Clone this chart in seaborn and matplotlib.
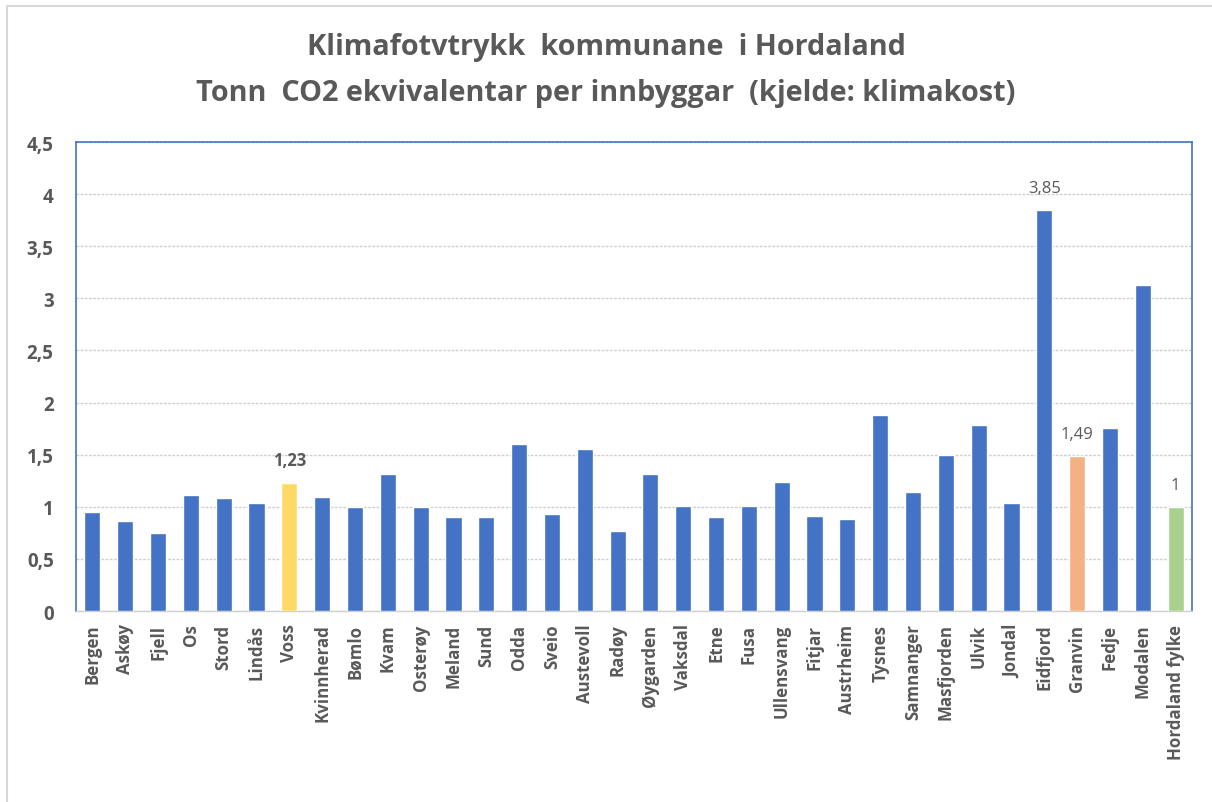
import matplotlib
matplotlib.use("Agg")
import matplotlib.pyplot as plt
import seaborn as sns
import pandas as pd
from matplotlib.lines import Line2D
from matplotlib.ticker import FuncFormatter

kommunar = ["Bergen", "Askøy", "Fjell", "Os", "Stord", "Lindås", "Voss", "Kvinnherad",
            "Bømlo", "Kvam", "Osterøy", "Meland", "Sund", "Odda", "Sveio", "Austevoll",
            "Radøy", "Øygarden", "Vaksdal", "Etne", "Fusa", "Ullensvang", "Fitjar",
            "Austrheim", "Tysnes", "Samnanger", "Masfjorden", "Ulvik", "Jondal",
            "Eidfjord", "Granvin", "Fedje", "Modalen", "Hordaland fylke"]
tonn_co2 = [0.95, 0.86, 0.75, 1.11, 1.08, 1.04, 1.23, 1.09,
            1.00, 1.31, 1.00, 0.90, 0.90, 1.60, 0.93, 1.55,
            0.77, 1.31, 1.01, 0.90, 1.01, 1.24, 0.91,
            0.88, 1.88, 1.14, 1.50, 1.78, 1.04,
            3.85, 1.49, 1.76, 3.13, 1.00]
y_ticks = [0, 0.5, 1, 1.5, 2, 2.5, 3, 3.5, 4, 4.5]
labelled = {"Voss": ("1,23", "bold"), "Eidfjord": ("3,85", "normal"),
            "Granvin": ("1,49", "normal"), "Hordaland fylke": ("1", "normal")}
title_lines = ["Klimafotvtrykk  kommunane  i Hordaland",
               "Tonn  CO2 ekvivalentar per innbyggar  (kjelde: klimakost)"]

BLUE = "#4472C4"
highlight = {"Voss": "#FFD966", "Granvin": "#F4B183", "Hordaland fylke": "#A9D18E"}
palette = {k: highlight.get(k, BLUE) for k in kommunar}

df = pd.DataFrame({"kommune": kommunar, "verdi": tonn_co2})

sns.set_theme(style="white")
plt.rcParams["font.family"] = ["Open Sans", "DejaVu Sans"]
TXT = "#595959"

fig = plt.figure(figsize=(12.12, 8.03), dpi=100)
ax = fig.add_axes([76 / 1212, 1 - 612 / 803, (1192 - 76) / 1212, (612 - 143) / 803])

sns.barplot(data=df, x="kommune", y="verdi", hue="kommune", palette=palette,
            legend=False, width=0.49, ax=ax, saturation=1, zorder=3)

ax.set_ylim(0, 4.5)
ax.set_xlim(-0.5, len(kommunar) - 0.5)
ax.set_yticks(y_ticks)
ax.yaxis.set_major_formatter(FuncFormatter(lambda v, p: (f"{v:g}").replace(".", ",")))
ax.yaxis.grid(True, color="#D0D0D0", linestyle=(0, (2, 1)), linewidth=1, zorder=0)
ax.set_xlabel("")
ax.set_ylabel("")
ax.tick_params(axis="x", rotation=90, labelsize=12.2, colors=TXT, length=0, pad=9)
ax.tick_params(axis="y", labelsize=13.5, colors=TXT, length=0, pad=16)
for lab in ax.get_xticklabels() + ax.get_yticklabels():
    lab.set_fontweight("bold")

for side in ["left", "top", "right"]:
    ax.spines[side].set_color(BLUE)
    ax.spines[side].set_linewidth(1.2)
    ax.spines[side].set_visible(True)
ax.spines["bottom"].set_color("#D0D0D0")
ax.spines["bottom"].set_linewidth(1)

for name, (txt, weight) in labelled.items():
    i = kommunar.index(name)
    ax.annotate(txt, (i, tonn_co2[i]), xytext=(0, 10), textcoords="offset points",
                ha="center", va="bottom", fontsize=12, color=TXT, fontweight=weight)

fig.text(0.5, 1 - 48 / 803, title_lines[0], ha="center", va="center",
         fontsize=20.8, fontweight="bold", color=TXT)
fig.text(0.5, 1 - 93 / 803, title_lines[1], ha="center", va="center",
         fontsize=20.8, fontweight="bold", color=TXT)

fig.add_artist(Line2D([7 / 1212, 7 / 1212], [0, 1 - 7 / 803], transform=fig.transFigure,
                      color="#D9D9D9", linewidth=1.5))
fig.add_artist(Line2D([7 / 1212, 1], [1 - 7 / 803, 1 - 7 / 803], transform=fig.transFigure,
                      color="#D9D9D9", linewidth=1.5))

fig.savefig("out.png", dpi=100, facecolor="white")
